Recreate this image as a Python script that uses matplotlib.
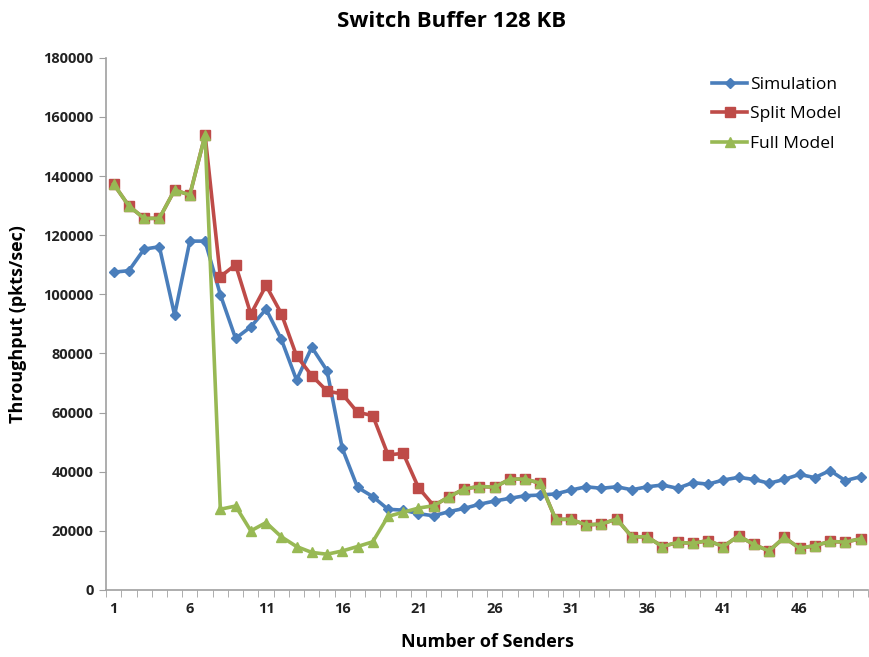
import matplotlib.pyplot as plt
import numpy as np

plt.rcParams['font.family'] = ['Open Sans', 'DejaVu Sans']

senders = np.arange(1, 51)

simulation = [107500, 108000, 115300, 116100, 93000, 118000, 118000, 99900, 85100, 89000,
              95000, 84800, 71000, 82100, 74200, 47900, 34700, 31600, 27300, 27000,
              25800, 25100, 26500, 27600, 29000, 30100, 31000, 31900, 32100, 32500,
              33800, 34900, 34400, 34900, 33900, 34900, 35500, 34400, 36300, 35800,
              37200, 38100, 37400, 36100, 37400, 39100, 38000, 40400, 37000, 38300]

split_model = [137300, 129900, 125700, 125700, 135300, 133600, 153900, 106000, 110000, 93300,
               103000, 93500, 79200, 72500, 67300, 66300, 60100, 59000, 45700, 46200,
               34600, 28500, 31500, 34200, 35000, 34800, 37500, 37500, 36100, 23900,
               23900, 22000, 22300, 24000, 18000, 18000, 14700, 16100, 15800, 16700,
               14700, 18300, 15400, 13200, 17800, 14100, 15000, 16400, 16200, 17300]

full_model = [137300, 129900, 125700, 125700, 135300, 133600, 153900, 27300, 28400, 20000,
              22800, 18000, 14700, 12700, 12100, 13200, 14700, 16300, 24900, 26300,
              27700, 28500, 31500, 34200, 35000, 34800, 37500, 37500, 36100, 23900,
              23900, 22000, 22300, 24000, 18000, 18000, 14700, 16100, 15800, 16700,
              14700, 18300, 15400, 13200, 17800, 14100, 15000, 16400, 16200, 17300]

x_labels = [1, 6, 11, 16, 21, 26, 31, 36, 41, 46]

fig = plt.figure(figsize=(8.69, 6.57), dpi=100)
ax = fig.add_axes([0.122, 0.102, 0.877, 0.81])

ax.plot(senders, simulation, color='#4a7ebb', lw=2.6, marker='D', ms=5.5, label='Simulation')
ax.plot(senders, split_model, color='#be4b48', lw=2.6, marker='s', ms=7, label='Split Model')
ax.plot(senders, full_model, color='#98b954', lw=2.6, marker='^', ms=7, label='Full Model')

ax.set_xlim(0.5, 50.5)
ax.set_ylim(0, 180000)
ax.set_yticks(np.arange(0, 180001, 20000))
ax.set_xticks(x_labels)
ax.set_xticks(np.arange(0.5, 51, 1), minor=True)
ax.tick_params(axis='x', which='major', length=0, pad=9)
ax.tick_params(axis='x', which='minor', length=5, color='#a0a0a0')
ax.tick_params(axis='y', length=5, color='#a0a0a0', pad=4)
for lab in ax.get_xticklabels() + ax.get_yticklabels():
    lab.set_fontsize(10.5)
    lab.set_fontweight('bold')
    lab.set_color('#222222')

for side in ['top', 'right']:
    ax.spines[side].set_visible(False)
for side in ['left', 'bottom']:
    ax.spines[side].set_color('#a0a0a0')
    ax.spines[side].set_linewidth(1.2)

fig.text(0.52, 0.968, 'Switch Buffer 128 KB', fontsize=16, fontweight='bold',
         ha='center', va='center')
ax.set_xlabel('Number of Senders', fontsize=13, fontweight='bold', labelpad=12)
ax.set_ylabel('Throughput (pkts/sec)', fontsize=13, fontweight='bold', labelpad=12)

ax.legend(loc='upper right', bbox_to_anchor=(0.985, 0.993), frameon=False,
          fontsize=12.5, handlelength=2.0, labelspacing=0.75, handletextpad=0.15)

fig.savefig('out.png', dpi=100)
